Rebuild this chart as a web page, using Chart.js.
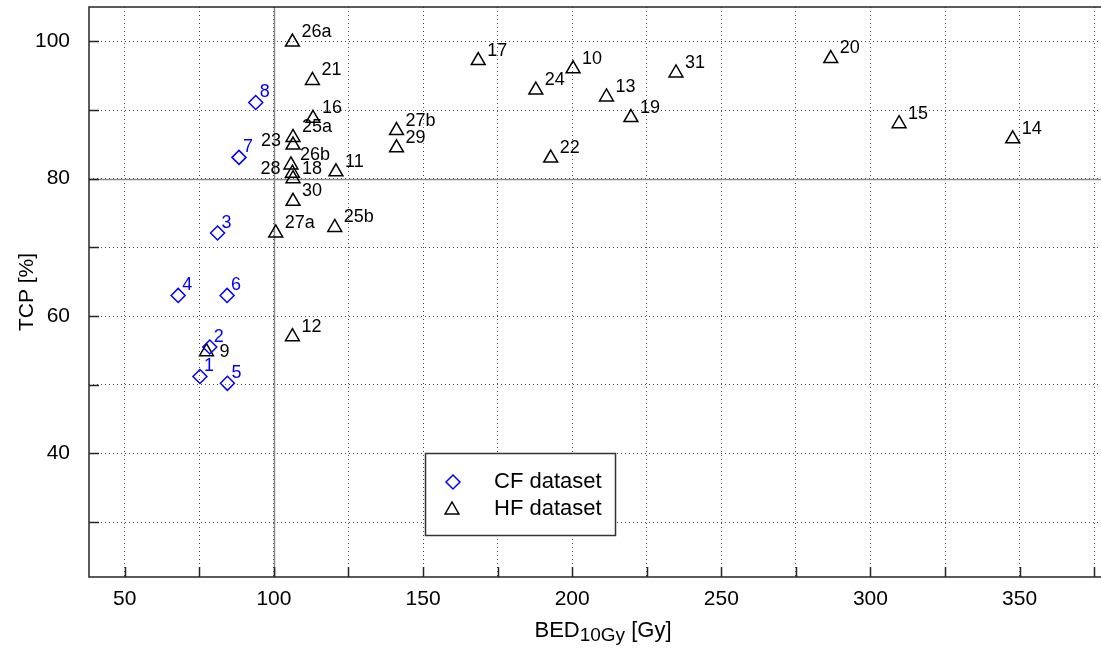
<!DOCTYPE html>
<html>
<head>
<meta charset="utf-8">
<script src="https://cdn.jsdelivr.net/npm/chart.js@4.4.1/dist/chart.umd.min.js"></script>
<style>
  html, body { margin: 0; background: #fff; }
</style>
</head>
<body>
<canvas id="chart" width="1101" height="649"></canvas>
<script>
// CF dataset (blue diamonds)
const cfLabels = ["1", "2", "3", "4", "5", "6", "7", "8"];
const cfBed = [75.2, 78.5, 81.1, 67.9, 84.4, 84.3, 88.3, 93.9];
const cfTcp = [51.2, 55.5, 72.1, 63.0, 50.2, 63.0, 83.1, 91.1];

// HF dataset (black triangles)
const hfLabels = ["26a", "21", "16", "25a", "23", "26b", "28", "18", "11", "30", "27a", "25b", "12", "9",
  "17", "10", "24", "13", "31", "19", "27b", "29", "22", "20", "15", "14"];
const hfBed = [106.2, 112.9, 113.1, 106.4, 106.4, 105.7, 106.2, 106.4, 120.8, 106.4, 100.6, 120.4, 106.2, 77.4,
  168.5, 200.3, 187.8, 211.5, 234.8, 219.7, 141.1, 141.1, 192.8, 286.7, 309.6, 347.7];
const hfTcp = [99.9, 94.3, 88.8, 86.0, 84.9, 82.0, 80.8, 80.0, 81.0, 76.7, 72.1, 72.9, 57.0, 54.8,
  97.2, 96.0, 92.9, 91.9, 95.4, 88.9, 87.0, 84.5, 83.0, 97.5, 88.0, 85.8];

const xTicks = [50, 75, 100, 125, 150, 175, 200, 225, 250, 275, 300, 325, 350, 375];
const yTicks = [30, 40, 50, 60, 70, 80, 90, 100];

const FONT = "'Liberation Sans', Arial, Helvetica, sans-serif";

// labels that do not sit at the upper right of their marker
const labelPlace = { "23": "left", "28": "left", "9": "below" };

const toPoints = (xs, ys) => xs.map((x, i) => ({ x, y: ys[i] }));

const decor = {
  id: "decor",
  beforeDatasetsDraw(chart) {
    const { ctx, chartArea: a, scales: { x, y } } = chart;
    ctx.save();
    // reference lines at 100 Gy / 80 %
    ctx.strokeStyle = "#8a8a8a";
    ctx.lineWidth = 1.5;
    ctx.beginPath();
    const x100 = Math.round(x.getPixelForValue(100)) + 0.5;
    const y80 = Math.round(y.getPixelForValue(80)) + 0.5;
    ctx.moveTo(x100, a.top); ctx.lineTo(x100, a.bottom);
    ctx.moveTo(a.left, y80); ctx.lineTo(a.right, y80);
    ctx.stroke();

    // frame + inward ticks
    ctx.strokeStyle = "#262626";
    ctx.lineWidth = 1.5;
    ctx.beginPath();
    ctx.moveTo(a.right + 2, a.top); ctx.lineTo(a.left, a.top);
    ctx.lineTo(a.left, a.bottom); ctx.lineTo(a.right + 2, a.bottom);
    for (const v of xTicks) {
      const px = Math.round(x.getPixelForValue(v)) + 0.5;
      ctx.moveTo(px, a.bottom); ctx.lineTo(px, a.bottom - 10);
    }
    for (const v of yTicks) {
      const py = Math.round(y.getPixelForValue(v)) + 0.5;
      ctx.moveTo(a.left, py); ctx.lineTo(a.left + 10, py);
    }
    ctx.stroke();
    ctx.restore();
  },
  afterDatasetsDraw(chart) {
    const { ctx, chartArea: a } = chart;
    ctx.save();

    // point labels
    ctx.font = `18px ${FONT}`;
    ctx.textBaseline = "middle";
    const sets = [
      { idx: 0, labels: cfLabels, color: "#0000ff", dx: 4, dy: -10 },
      { idx: 1, labels: hfLabels, color: "#000000", dx: 9, dy: -10 },
    ];
    for (const s of sets) {
      const meta = chart.getDatasetMeta(s.idx);
      ctx.fillStyle = s.color;
      meta.data.forEach((pt, i) => {
        const lab = s.labels[i];
        const place = labelPlace[lab];
        if (place === "left") {
          ctx.textAlign = "right";
          ctx.fillText(lab, pt.x - 12, pt.y - 4);
        } else if (place === "below") {
          ctx.textAlign = "left";
          ctx.fillText(lab, pt.x + 13, pt.y);
        } else {
          ctx.textAlign = "left";
          ctx.fillText(lab, pt.x + s.dx, pt.y + s.dy);
        }
      });
    }

    // legend
    const lx = 425.5, ly = 453.5, lw = 190, lh = 82;
    ctx.fillStyle = "#fff";
    ctx.fillRect(lx, ly, lw, lh);
    ctx.strokeStyle = "#333";
    ctx.lineWidth = 1.5;
    ctx.strokeRect(lx, ly, lw, lh);

    ctx.lineWidth = 1.5;
    ctx.strokeStyle = "#0000ff";
    ctx.beginPath();
    ctx.moveTo(453 - 7, 482); ctx.lineTo(453, 475); ctx.lineTo(453 + 7, 482); ctx.lineTo(453, 489);
    ctx.closePath(); ctx.stroke();
    ctx.strokeStyle = "#000";
    ctx.beginPath();
    ctx.moveTo(452, 502); ctx.lineTo(452 + 6.9, 514); ctx.lineTo(452 - 6.9, 514);
    ctx.closePath(); ctx.stroke();

    ctx.fillStyle = "#000";
    ctx.font = `22px ${FONT}`;
    ctx.textAlign = "left";
    ctx.textBaseline = "middle";
    ctx.fillText("CF dataset", 494, 482);
    ctx.fillText("HF dataset", 494, 509);

    // y axis title
    ctx.save();
    ctx.translate(27, (a.top + a.bottom) / 2);
    ctx.rotate(-Math.PI / 2);
    ctx.textAlign = "center";
    ctx.textBaseline = "middle";
    ctx.font = `21px ${FONT}`;
    ctx.fillText("TCP [%]", 0, 0);
    ctx.restore();

    // x axis title with subscript
    const big = `22px ${FONT}`, small = `19px ${FONT}`;
    ctx.font = big; const w1 = ctx.measureText("BED").width;
    const w3 = ctx.measureText(" [Gy]").width;
    ctx.font = small; const w2 = ctx.measureText("10Gy").width;
    let tx = 603 - (w1 + w2 + w3) / 2;
    const base = 637;
    ctx.textBaseline = "alphabetic";
    ctx.font = big; ctx.fillText("BED", tx, base); tx += w1;
    ctx.font = small; ctx.fillText("10Gy", tx, base + 4); tx += w2;
    ctx.font = big; ctx.fillText(" [Gy]", tx, base);

    ctx.restore();
  },
};

new Chart(document.getElementById("chart"), {
  type: "scatter",
  data: {
    datasets: [
      {
        label: "CF dataset",
        data: toPoints(cfBed, cfTcp),
        pointStyle: "rectRot",
        pointRadius: 7,
        pointBorderWidth: 1.5,
        borderColor: "#0000ff",
        backgroundColor: "rgba(0,0,0,0)",
        clip: false,
      },
      {
        label: "HF dataset",
        data: toPoints(hfBed, hfTcp),
        pointStyle: "triangle",
        pointRadius: 8,
        pointBorderWidth: 1.5,
        borderColor: "#000000",
        backgroundColor: "rgba(0,0,0,0)",
        clip: false,
      },
    ],
  },
  options: {
    responsive: false,
    animation: false,
    devicePixelRatio: 1,
    layout: { autoPadding: false, padding: { top: 7, right: 0, bottom: 0, left: 0 } },
    plugins: { legend: { display: false }, tooltip: { enabled: false } },
    scales: {
      x: {
        type: "linear",
        min: 38,
        max: 377.3,
        afterBuildTicks: (s) => { s.ticks = xTicks.map((v) => ({ value: v })); },
        afterFit: (s) => { s.height = 72; s.paddingLeft = 0; s.paddingRight = 0; },
        ticks: {
          autoSkip: false,
          maxRotation: 0,
          padding: 10,
          color: "#000",
          font: { family: FONT, size: 21 },
          callback: (v) => (v % 50 === 0 ? String(v) : ""),
        },
        grid: { color: "rgba(0,0,0,0.7)", lineWidth: 1, drawTicks: false },
        border: { display: false, dash: [1, 3] },
      },
      y: {
        type: "linear",
        min: 22,
        max: 105,
        afterBuildTicks: (s) => { s.ticks = yTicks.map((v) => ({ value: v })); },
        afterFit: (s) => { s.width = 89; s.paddingTop = 0; s.paddingBottom = 0; },
        ticks: {
          autoSkip: false,
          padding: 19,
          color: "#000",
          font: { family: FONT, size: 21 },
          callback: (v) => (v % 20 === 0 ? String(v) : ""),
        },
        grid: { color: "rgba(0,0,0,0.7)", lineWidth: 1, drawTicks: false },
        border: { display: false, dash: [1, 3] },
      },
    },
  },
  plugins: [decor],
});
</script>
</body>
</html>
